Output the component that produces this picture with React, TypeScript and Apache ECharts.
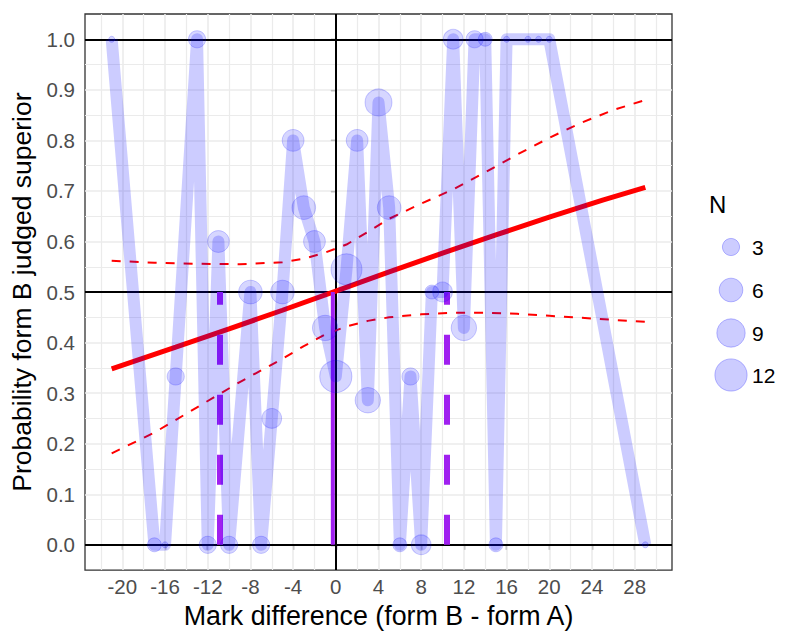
import React, { useEffect, useRef } from "react";
import * as echarts from "echarts";

// Observed data: mark difference, proportion judging form B superior, number of judgements
const markDiff = [-21, -17, -16, -15, -13, -12, -11, -10, -8, -7, -6, -5, -4, -3, -2, -1, 0, 1, 2, 3, 4, 5, 6, 7, 8, 9, 10, 11, 12, 13, 14, 15, 16, 18, 19, 20, 29];
const probB = [1, 0, 0, 0.333, 1, 0, 0.6, 0, 0.5, 0, 0.25, 0.5, 0.8, 0.667, 0.6, 0.429, 0.333, 0.545, 0.8, 0.286, 0.875, 0.667, 0, 0.333, 0, 0.5, 0.5, 1, 0.429, 1, 1, 0, 1, 1, 1, 1, 0];
const nJudged = [1, 2, 1, 3, 3, 3, 5, 3, 6, 3, 4, 6, 5, 6, 5, 7, 12, 11, 5, 7, 8, 6, 2, 3, 4, 2, 4, 4, 7, 3, 2, 2, 1, 1, 1, 1, 1];

// Fitted curve
const fitX = [-21, -15, -10, -5, 0, 5, 10, 15, 20, 25, 29];
const fitP = [0.348, 0.391, 0.427, 0.464, 0.502, 0.54, 0.577, 0.613, 0.648, 0.682, 0.707];

// Confidence band
const ciX = [-21, -17, -13, -9, -5, -3, -1, 1, 3, 5, 8, 11, 14, 17, 20, 23, 26, 29];
const ciUpper = [0.562, 0.558, 0.556, 0.555, 0.559, 0.566, 0.578, 0.594, 0.619, 0.645, 0.675, 0.703, 0.737, 0.772, 0.805, 0.835, 0.86, 0.88];
const ciLower = [0.181, 0.222, 0.272, 0.322, 0.368, 0.393, 0.416, 0.432, 0.443, 0.45, 0.456, 0.459, 0.459, 0.457, 0.453, 0.449, 0.445, 0.441];

// 50% point and its interval
const x50 = -0.28;
const x50Low = -10.86;
const x50High = 10.43;

// Axis ticks and grid
const xTicks = [-20, -16, -12, -8, -4, 0, 4, 8, 12, 16, 20, 24, 28];
const xMinor = [-22, -18, -14, -10, -6, -2, 2, 6, 10, 14, 18, 22, 26, 30];
const yTicks = [0, 0.1, 0.2, 0.3, 0.4, 0.5, 0.6, 0.7, 0.8, 0.9, 1.0];
const yMinor = [0.05, 0.15, 0.25, 0.35, 0.45, 0.55, 0.65, 0.75, 0.85, 0.95];
const refY = [0, 0.5, 1];
const refX = [0];
const legendN = [3, 6, 9, 12];

const FONT = "Liberation Sans, Arial, sans-serif";
const BLUE = "rgba(0,0,255,0.2)";
const PURPLE = "#A020F0";

const sizeOf = (n: number) => 6 + 7.9 * Math.sqrt(n - 1);

export default function App() {
  const ref = useRef<HTMLDivElement>(null);
  useEffect(() => {
    if (!ref.current) return;
    const chart = echarts.init(ref.current, null, { renderer: "svg" });

    const gridLine = (w: number) => ({ color: "#EBEBEB", width: w, type: "solid" as const });
    const gridData = [
      ...xMinor.map((v) => ({ xAxis: v, lineStyle: gridLine(1.2) })),
      ...xTicks.map((v) => ({ xAxis: v, lineStyle: gridLine(1.6) })),
      ...yMinor.map((v) => ({ yAxis: v, lineStyle: gridLine(1.2) })),
      ...yTicks.map((v) => ({ yAxis: v, lineStyle: gridLine(1.6) })),
    ];
    const refData = [
      ...refY.map((v) => ({ yAxis: v })),
      ...refX.map((v) => ({ xAxis: v })),
    ];
    const purpleData: any[] = [
      [
        { coord: [x50Low, 0], lineStyle: { color: PURPLE, width: 6, type: [30, 30] } },
        { coord: [x50Low, 0.5] },
      ],
      [
        { coord: [x50High, 0], lineStyle: { color: PURPLE, width: 6, type: [30, 30] } },
        { coord: [x50High, 0.5] },
      ],
    ];

    const legendGraphics: any[] = [
      {
        type: "text",
        left: 709,
        top: 192,
        style: { text: "N", font: `24px ${FONT}`, fill: "#000" },
        z: 100,
      },
    ];
    const legendY = [247, 290, 333, 375];
    legendN.forEach((n, i) => {
      legendGraphics.push({
        type: "circle",
        shape: { cx: 731, cy: legendY[i], r: sizeOf(n) / 2 },
        style: { fill: BLUE, stroke: "rgba(0,0,255,0.25)", lineWidth: 1 },
        z: 100,
      });
      legendGraphics.push({
        type: "text",
        x: 752,
        y: legendY[i],
        style: {
          text: String(n),
          font: `21px ${FONT}`,
          fill: "#000",
          verticalAlign: "middle",
          align: "left",
        },
        z: 100,
      });
    });

    const option: any = {
      animation: false,
      backgroundColor: "#fff",
      grid: {
        left: 85,
        top: 14,
        width: 587,
        height: 558,
        show: true,
        borderColor: "#333333",
        borderWidth: 1.3,
        backgroundColor: "#fff",
      },
      xAxis: {
        type: "value",
        min: -23.5,
        max: 31.5,
        axisLine: { show: false },
        splitLine: { show: false },
        axisTick: {
          show: true,
          customValues: xTicks,
          length: 5,
          lineStyle: { color: "#333333", width: 1.3 },
        },
        axisLabel: {
          customValues: xTicks,
          fontSize: 20.5,
          fontFamily: FONT,
          color: "#4D4D4D",
          margin: 6,
        },
        name: "Mark difference (form B - form A)",
        nameLocation: "middle",
        nameGap: 28,
        nameTextStyle: { fontSize: 26.8, fontFamily: FONT, color: "#000" },
      },
      yAxis: {
        type: "value",
        min: -0.05,
        max: 1.05,
        axisLine: { show: false },
        splitLine: { show: false },
        axisTick: {
          show: true,
          customValues: yTicks,
          length: 5,
          lineStyle: { color: "#333333", width: 1.3 },
        },
        axisLabel: {
          customValues: yTicks,
          fontSize: 20.5,
          fontFamily: FONT,
          color: "#4D4D4D",
          margin: 10,
          formatter: (v: number) => v.toFixed(1),
        },
        name: "Probability form B judged superior",
        nameLocation: "middle",
        nameRotate: 90,
        nameGap: 42,
        nameTextStyle: { fontSize: 26.5, fontFamily: FONT, color: "#000" },
      },
      graphic: legendGraphics,
      series: [
        {
          type: "line",
          data: [[0, 0]],
          symbol: "none",
          lineStyle: { opacity: 0 },
          silent: true,
          z: 1,
          markLine: {
            z: 1,
            silent: true,
            symbol: ["none", "none"],
            label: { show: false },
            emphasis: { disabled: true },
            data: gridData,
          },
        },
        {
          type: "line",
          data: [[0, 0]],
          symbol: "none",
          lineStyle: { opacity: 0 },
          silent: true,
          z: 2,
          markLine: {
            z: 2,
            silent: true,
            symbol: ["none", "none"],
            label: { show: false },
            emphasis: { disabled: true },
            lineStyle: { color: "#000", width: 2, type: "solid" },
            data: refData,
          },
        },
        {
          type: "line",
          data: fitX.map((x, i) => [x, fitP[i]]),
          symbol: "none",
          smooth: false,
          lineStyle: { color: "#FF0000", width: 5, type: "solid" },
          z: 10,
        },
        {
          type: "line",
          data: ciX.map((x, i) => [x, ciUpper[i]]),
          symbol: "none",
          lineStyle: { color: "#FF0000", width: 2, type: [9, 9] },
          z: 10,
        },
        {
          type: "line",
          data: ciX.map((x, i) => [x, ciLower[i]]),
          symbol: "none",
          lineStyle: { color: "#FF0000", width: 2, type: [9, 9] },
          z: 10,
        },
        {
          type: "line",
          data: [[0, 0]],
          symbol: "none",
          lineStyle: { opacity: 0 },
          silent: true,
          z: 11,
          markLine: {
            z: 11,
            silent: true,
            symbol: ["none", "none"],
            label: { show: false },
            emphasis: { disabled: true },
            data: purpleData,
          },
        },
        {
          type: "line",
          data: [[x50, 0], [x50, 0.5]],
          symbol: "none",
          lineStyle: { color: PURPLE, width: 4, type: "solid" },
          z: 11,
        },
        {
          type: "line",
          data: markDiff.map((x, i) => [x, probB[i]]),
          symbol: "none",
          lineStyle: { color: BLUE, width: 12, join: "round", cap: "butt", type: "solid" },
          z: 12,
        },
        {
          type: "scatter",
          data: markDiff.map((x, i) => [x, probB[i], nJudged[i]]),
          symbolSize: (val: number[]) => sizeOf(val[2]),
          itemStyle: { color: BLUE, borderColor: "rgba(0,0,255,0.25)", borderWidth: 1 },
          z: 13,
        },
      ],
    };
    chart.setOption(option);
    return () => chart.dispose();
  }, []);

  return (
    <div
      ref={ref}
      style={{ position: "fixed", left: 0, top: 0, width: 792, height: 634 }}
    />
  );
}
